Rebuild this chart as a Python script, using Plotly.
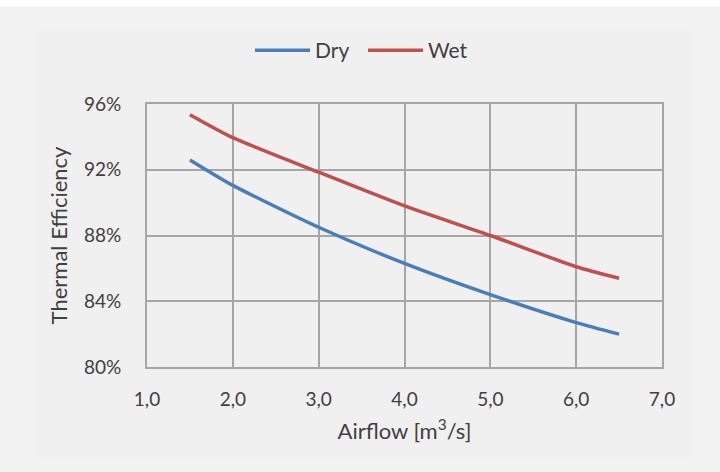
import plotly.graph_objects as go

airflow = [1.5, 2.0, 3.0, 4.0, 5.0, 6.0, 6.5]
dry = [0.926, 0.9105, 0.885, 0.863, 0.844, 0.827, 0.820]
wet = [0.9535, 0.9395, 0.9185, 0.898, 0.880, 0.861, 0.854]

x_ticks = [1, 2, 3, 4, 5, 6, 7]
y_ticks = [0.80, 0.84, 0.88, 0.92, 0.96]

FONT = "Lato"
TXT = "#404040"
GRID = "#a6a6a6"

fig = go.Figure()
fig.add_trace(go.Scatter(x=airflow, y=dry, mode="lines", name="Dry",
                         line=dict(color="#4a7ebb", width=3.5, shape="spline", smoothing=0.6)))
fig.add_trace(go.Scatter(x=airflow, y=wet, mode="lines", name="Wet",
                         line=dict(color="#c0504d", width=3.5, shape="spline", smoothing=0.6)))

fig.update_layout(
    width=720, height=472,
    margin=dict(l=147, r=58, t=104, b=105),
    paper_bgcolor="white",
    plot_bgcolor="rgba(0,0,0,0)",
    separators=", ",
    font=dict(family=FONT, color=TXT, size=19),
    showlegend=True,
    legend=dict(orientation="h", x=(250 - 147) / 515, xanchor="left", y=0.893, yanchor="middle",
                yref="container", font=dict(size=21, color=TXT), bgcolor="rgba(0,0,0,0)",
                itemwidth=55, tracegroupgap=0, entrywidth=43, entrywidthmode="pixels"),
    shapes=[
        dict(type="rect", xref="paper", yref="paper", x0=-147/515, x1=(720-147)/515,
             y0=-105/263, y1=(472-7-105)/263, fillcolor="#f2f2f2", line=dict(width=0), layer="below"),
        dict(type="rect", xref="paper", yref="paper", x0=(36-147)/515, x1=(692-147)/515,
             y0=(367-457)/263, y1=(367-31)/263, fillcolor="#f0f0f0", line=dict(width=0), layer="below"),
    ],
)

fig.update_xaxes(
    range=[1, 7], tickvals=x_ticks, tickformat=".1f",
    showgrid=True, gridcolor=GRID, gridwidth=1.5,
    showline=True, linecolor=GRID, linewidth=2, mirror=True,
    ticks="outside", ticklen=14, tickcolor="rgba(0,0,0,0)",
    tickfont=dict(family=FONT, size=19, color=TXT), zeroline=False,
    title=dict(text="Airflow [m<sup>3</sup>/s]", font=dict(family=FONT, size=22, color=TXT), standoff=15),
)
fig.update_yaxes(
    range=[0.80, 0.96], tickvals=y_ticks, tickformat=".0%",
    showgrid=True, gridcolor=GRID, gridwidth=1.5,
    showline=True, linecolor=GRID, linewidth=2, mirror=True,
    ticks="outside", ticklen=20, tickcolor="rgba(0,0,0,0)",
    tickfont=dict(family=FONT, size=19, color=TXT), zeroline=False,
    title=dict(text="Thermal Efficiency", font=dict(family=FONT, size=22, color=TXT), standoff=10),
)

fig.write_html("out.html")
